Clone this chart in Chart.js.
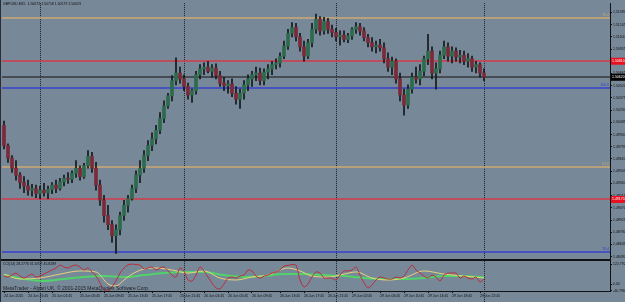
<!DOCTYPE html>
<html>
<head>
<meta charset="utf-8">
<script src="https://cdn.jsdelivr.net/npm/chart.js@4.4.0/dist/chart.umd.min.js"></script>
<style>
  html, body { margin: 0; padding: 0; background: #778899; overflow: hidden; }
  canvas { display: block; }
</style>
</head>
<body>
<canvas id="graphique" width="625" height="302"></canvas>
<script>
// GBPUSD candles, one per slot
var opens = [
  1.5005, 1.4981, 1.4966, 1.4954, 1.4946, 1.4937, 1.4933, 1.4928, 1.4930, 1.4924,
  1.4928, 1.4925, 1.4929, 1.4934, 1.4930, 1.4938, 1.4942, 1.4941, 1.4948, 1.4954,
  1.4944, 1.4957, 1.4968, 1.4954, 1.4934, 1.4916, 1.4898, 1.4887, 1.4874, 1.4881,
  1.4898, 1.4910, 1.4918, 1.4930, 1.4946, 1.4954, 1.4969, 1.4981, 1.4989, 1.4999,
  1.5013, 1.5028, 1.5040, 1.5058, 1.5067, 1.5060, 1.5051, 1.5041, 1.5046, 1.5065,
  1.5072, 1.5074, 1.5069, 1.5073, 1.5064, 1.5055, 1.5052, 1.5054, 1.5043, 1.5036,
  1.5043, 1.5053, 1.5060, 1.5065, 1.5067, 1.5058, 1.5068, 1.5072, 1.5077, 1.5079,
  1.5087, 1.5099, 1.5114, 1.5121, 1.5110, 1.5098, 1.5087, 1.5103, 1.5119, 1.5131,
  1.5117, 1.5128, 1.5119, 1.5115, 1.5110, 1.5112, 1.5107, 1.5111, 1.5119, 1.5122,
  1.5117, 1.5109, 1.5103, 1.5098, 1.5100, 1.5097, 1.5084, 1.5074, 1.5081, 1.5060,
  1.5041, 1.5029, 1.5048, 1.5062, 1.5060, 1.5069, 1.5084, 1.5093, 1.5067, 1.5072,
  1.5088, 1.5098, 1.5087, 1.5093, 1.5086, 1.5088, 1.5081, 1.5084, 1.5074, 1.5077,
  1.5067
];
var highs = [
  1.5010, 1.4983, 1.4969, 1.4963, 1.4949, 1.4944, 1.4940, 1.4935, 1.4934, 1.4933,
  1.4936, 1.4933, 1.4937, 1.4940, 1.4942, 1.4946, 1.4949, 1.4951, 1.4963, 1.4957,
  1.4960, 1.4975, 1.4973, 1.4961, 1.4940, 1.4922, 1.4910, 1.4892, 1.4887, 1.4902,
  1.4916, 1.4922, 1.4934, 1.4951, 1.4963, 1.4975, 1.4987, 1.4996, 1.5005, 1.5020,
  1.5034, 1.5043, 1.5064, 1.5085, 1.5074, 1.5065, 1.5055, 1.5048, 1.5069, 1.5077,
  1.5079, 1.5081, 1.5077, 1.5078, 1.5069, 1.5062, 1.5058, 1.5060, 1.5051, 1.5048,
  1.5058, 1.5065, 1.5069, 1.5074, 1.5073, 1.5072, 1.5077, 1.5081, 1.5084, 1.5091,
  1.5105, 1.5119, 1.5127, 1.5126, 1.5114, 1.5105, 1.5107, 1.5126, 1.5137, 1.5134,
  1.5133, 1.5132, 1.5124, 1.5120, 1.5117, 1.5117, 1.5114, 1.5121, 1.5127, 1.5126,
  1.5121, 1.5113, 1.5109, 1.5105, 1.5107, 1.5103, 1.5091, 1.5086, 1.5084, 1.5067,
  1.5048, 1.5053, 1.5067, 1.5074, 1.5077, 1.5087, 1.5113, 1.5098, 1.5079, 1.5093,
  1.5105, 1.5103, 1.5098, 1.5097, 1.5094, 1.5093, 1.5090, 1.5087, 1.5081, 1.5079,
  1.5072
];
var lows = [
  1.4977, 1.4961, 1.4949, 1.4940, 1.4930, 1.4925, 1.4922, 1.4921, 1.4919, 1.4918,
  1.4921, 1.4918, 1.4924, 1.4925, 1.4928, 1.4933, 1.4936, 1.4937, 1.4943, 1.4940,
  1.4942, 1.4954, 1.4949, 1.4928, 1.4910, 1.4890, 1.4881, 1.4866, 1.4853, 1.4875,
  1.4892, 1.4902, 1.4916, 1.4925, 1.4937, 1.4949, 1.4963, 1.4975, 1.4983, 1.4995,
  1.5008, 1.5025, 1.5034, 1.5053, 1.5055, 1.5046, 1.5036, 1.5032, 1.5042, 1.5060,
  1.5065, 1.5067, 1.5062, 1.5060, 1.5051, 1.5046, 1.5043, 1.5039, 1.5030, 1.5025,
  1.5036, 1.5046, 1.5051, 1.5058, 1.5053, 1.5053, 1.5060, 1.5065, 1.5072, 1.5074,
  1.5084, 1.5095, 1.5110, 1.5105, 1.5093, 1.5081, 1.5084, 1.5098, 1.5114, 1.5112,
  1.5113, 1.5114, 1.5110, 1.5105, 1.5100, 1.5104, 1.5103, 1.5107, 1.5114, 1.5112,
  1.5105, 1.5098, 1.5093, 1.5091, 1.5093, 1.5079, 1.5069, 1.5065, 1.5055, 1.5034,
  1.5017, 1.5025, 1.5043, 1.5055, 1.5053, 1.5064, 1.5077, 1.5060, 1.5048, 1.5067,
  1.5084, 1.5081, 1.5079, 1.5081, 1.5079, 1.5077, 1.5074, 1.5069, 1.5067, 1.5062,
  1.5058
];
var closes = [
  1.4981, 1.4966, 1.4954, 1.4946, 1.4937, 1.4933, 1.4928, 1.4930, 1.4924, 1.4928,
  1.4925, 1.4929, 1.4934, 1.4930, 1.4938, 1.4942, 1.4941, 1.4948, 1.4954, 1.4944,
  1.4957, 1.4968, 1.4954, 1.4934, 1.4916, 1.4898, 1.4887, 1.4874, 1.4881, 1.4898,
  1.4910, 1.4918, 1.4930, 1.4946, 1.4954, 1.4969, 1.4981, 1.4989, 1.4999, 1.5013,
  1.5028, 1.5040, 1.5058, 1.5067, 1.5060, 1.5051, 1.5041, 1.5046, 1.5065, 1.5072,
  1.5074, 1.5069, 1.5073, 1.5064, 1.5055, 1.5052, 1.5054, 1.5043, 1.5036, 1.5043,
  1.5053, 1.5060, 1.5065, 1.5067, 1.5058, 1.5068, 1.5072, 1.5077, 1.5079, 1.5087,
  1.5099, 1.5114, 1.5121, 1.5110, 1.5098, 1.5087, 1.5103, 1.5119, 1.5131, 1.5117,
  1.5128, 1.5119, 1.5115, 1.5110, 1.5112, 1.5107, 1.5111, 1.5119, 1.5122, 1.5117,
  1.5109, 1.5103, 1.5098, 1.5100, 1.5097, 1.5084, 1.5074, 1.5081, 1.5060, 1.5041,
  1.5029, 1.5048, 1.5062, 1.5060, 1.5069, 1.5084, 1.5093, 1.5067, 1.5072, 1.5088,
  1.5098, 1.5087, 1.5093, 1.5086, 1.5088, 1.5081, 1.5084, 1.5074, 1.5077, 1.5067,
  1.5062
];

// CCI sub-window
var cci = [
  50, 44, 56, 68, 50, 38, 50, 62, 44, 50,
  62, 75, 87, 99, 117, 105, 99, 111, 117, 105,
  87, 99, 75, 50, 8, -35, -40, -16, 20, 68,
  99, 118, 122.8, 120, 117, 93, 99, 105, 87, 99,
  105, 81, 56, 44, 99, 81, 26, 20, 56, 105,
  81, 44, 8, -22, -28, 2, 38, 44, 38, 50,
  56, 87, 81, 50, 38, 50, 56, 68, 75, 87,
  111, 115, 120, 117, 26, -16, 2, 44, 75, 68,
  38, 38, 38, 26, 56, 81, 81, 87, 105, 56,
  8, -22, -4, 26, 44, 38, 32, 32, 44, 38,
  50, 87, 117, 87, 68, 50, 38, 56, 44, 20,
  56, 68, 68, 68, 38, 50, 38, 32, 44, 14, 32
];
var yellowIdx = [0, 4, 9, 14, 19, 23, 26, 28, 30, 32, 35, 38, 42, 46, 50, 54, 58, 62, 66, 71, 74, 77, 81, 85, 88, 92, 96, 100, 105, 110, 115, 120];
var yellowVal = [62, 32, 38, 62, 81, 75, 2, -10, 26, 62, 93, 99, 87, 68, 81, 38, 26, 44, 56, 99, 81, 50, 44, 62, 75, 38, 26, 38, 81, 62, 50, 38];
var greenIdx = [0, 5, 10, 15, 20, 25, 30, 35, 40, 45, 50, 55, 60, 65, 70, 75, 80, 85, 90, 95, 100, 105, 110, 115, 120];
var greenVal = [56, 32, 20, 32, 44, 50, 44, 56, 68, 75, 75, 56, 44, 50, 62, 62, 56, 50, 38, 32, 32, 38, 50, 50, 44];

// axes
var timeIdx = [0, 6, 12, 19, 25, 31, 37, 44, 50, 56, 62, 69, 75, 81, 87, 94, 100, 106, 112, 119];
var timeLabels = ["24 Jun 2015", "24 Jun 21:45", "25 Jun 01:45", "25 Jun 05:45", "25 Jun 09:45",
  "25 Jun 13:45", "25 Jun 17:45", "25 Jun 21:45", "26 Jun 01:45", "26 Jun 05:45",
  "26 Jun 09:45", "26 Jun 13:45", "26 Jun 17:45", "26 Jun 21:45", "29 Jun 02:45",
  "29 Jun 06:45", "29 Jun 10:45", "29 Jun 14:45", "29 Jun 18:45", "29 Jun 22:45"];
var priceTicks = [1.48490, 1.48635, 1.48780, 1.48925, 1.49070, 1.49215, 1.49360, 1.49505,
  1.49650, 1.49795, 1.49940, 1.50085, 1.50230, 1.50375, 1.50520, 1.50665, 1.50810,
  1.50955, 1.51100, 1.51245, 1.51390];
var cciTicks = [-40.796, 0, 122.792];
var cciTickLabels = ["-40.7960", "0.00", "122.7920"];

// horizontal objects on the chart
var levelPrices = [1.5132, 1.5081, 1.5062, 1.5049, 1.4956, 1.4917, 1.4855];
var levelColors = ["#cfa874", "#d23a4a", "#34383e", "#3441cc", "#cfa874", "#d23a4a", "#3441cc"];
var levelNames = ["76.4", "", "", "100.0", "61.8", "", "76.4"];
var daySeparators = [9, 45, 83, 120];

var boxPrices = [1.5081, 1.4917, 1.5062];
var boxColors = ["#e8101e", "#e8101e", "#000000"];

var bull = "#2c6b4c";
var bear = "#7a2a38";
var wick = "#15171a";

var wickData = [];
var bodyData = [];
for (var i = 0; i < closes.length; i++) {
  wickData.push({ x: i, y: [lows[i], highs[i]] });
  bodyData.push({ x: i, y: [opens[i], closes[i]] });
}
var cciData = cci.map(function (v, k) { return { x: k, y: v }; });
var yellowData = yellowIdx.map(function (v, k) { return { x: v, y: yellowVal[k] }; });
var greenData = greenIdx.map(function (v, k) { return { x: v, y: greenVal[k] }; });

var font = "Liberation Sans";

var mt4 = {
  id: "mt4",
  beforeDraw: function (chart) {
    var c = chart.ctx;
    c.save();
    c.fillStyle = "#778899";
    c.fillRect(0, 0, chart.width, chart.height);
    c.restore();
  },
  beforeDatasetsDraw: function (chart) {
    var c = chart.ctx, a = chart.chartArea, ys = chart.scales.y, xs = chart.scales.x;
    c.save();
    // day separators
    c.strokeStyle = "#1e2226";
    c.lineWidth = 1;
    c.setLineDash([1, 1]);
    daySeparators.forEach(function (d) {
      var px = Math.round(xs.getPixelForValue(d)) + 0.5;
      c.beginPath();
      c.moveTo(px, a.top);
      c.lineTo(px, chart.height);
      c.stroke();
    });
    c.setLineDash([]);
    // levels
    c.font = "3.5px '" + font + "'";
    c.textAlign = "right";
    c.textBaseline = "bottom";
    c.lineWidth = 1.5;
    levelPrices.forEach(function (p, k) {
      var py = Math.round(ys.getPixelForValue(p));
      c.strokeStyle = levelColors[k];
      c.beginPath();
      c.moveTo(a.left, py);
      c.lineTo(a.right, py);
      c.stroke();
      if (levelNames[k]) {
        c.fillStyle = levelColors[k];
        c.fillText(levelNames[k], a.right - 1, py - 1);
      }
    });
    c.restore();
  },
  afterDatasetsDraw: function (chart) {
    var c = chart.ctx, a = chart.chartArea, ys = chart.scales.y;
    c.save();
    // panel split
    c.fillStyle = "#101214";
    c.fillRect(0, Math.round(ys.bottom) - 1, a.right, 2);
    // left frame
    c.fillStyle = "#2a2e33";
    c.fillRect(0, 0, 1, chart.height);
    // texts
    c.fillStyle = "#111";
    c.textAlign = "left";
    c.textBaseline = "middle";
    c.font = "3.5px '" + font + "'";
    c.fillText("GBPUSD,M15  1.50672 1.50718 1.50579 1.50623", 3, 4.5);
    c.fillText("CCI(14) 28.2776 31.6707 45.8289", 3, ys.bottom + 4);
    c.fillStyle = "#1e2024";
    c.font = "5px '" + font + "'";
    c.fillText("MetaTrader - Alpari UK, \u00a9 2001-2015 MetaQuotes Software Corp.", 3, 288.5);
    c.restore();
  },
  afterDraw: function (chart) {
    var c = chart.ctx, a = chart.chartArea, ys = chart.scales.y;
    c.save();
    c.font = "3.5px '" + font + "'";
    c.textAlign = "left";
    c.textBaseline = "middle";
    boxPrices.forEach(function (p, k) {
      var py = ys.getPixelForValue(p);
      c.fillStyle = boxColors[k];
      c.fillRect(a.right + 1, py - 3.5, chart.width - a.right - 1, 7);
      c.fillStyle = "#ffffff";
      c.fillText(p.toFixed(5), a.right + 2, py);
    });
    c.restore();
  }
};

var tickFont = { family: font, size: 3.5 };

new Chart(document.getElementById("graphique"), {
  type: "bar",
  data: {
    datasets: [
      {
        label: "body", data: bodyData, xAxisID: "x", yAxisID: "y", order: 1,
        grouped: false, barThickness: 3, minBarLength: 1, borderWidth: 0,
        backgroundColor: function (ctx) {
          var k = ctx.dataIndex;
          return closes[k] >= opens[k] ? bull : bear;
        }
      },
      {
        label: "wick", data: wickData, xAxisID: "x", yAxisID: "y", order: 2,
        grouped: false, barThickness: 1, borderWidth: 0, backgroundColor: wick
      },
      {
        type: "line", label: "CCI", data: cciData, xAxisID: "x", yAxisID: "yc", order: 3,
        borderColor: "#b8303e", borderWidth: 1, pointRadius: 0, tension: 0.3
      },
      {
        type: "line", label: "MA1", data: yellowData, xAxisID: "x", yAxisID: "yc", order: 4,
        borderColor: "#e6d27a", borderWidth: 1, pointRadius: 0, cubicInterpolationMode: "monotone"
      },
      {
        type: "line", label: "MA2", data: greenData, xAxisID: "x", yAxisID: "yc", order: 5,
        borderColor: "#4fd36a", borderWidth: 2, pointRadius: 0, cubicInterpolationMode: "monotone"
      }
    ]
  },
  options: {
    responsive: false,
    devicePixelRatio: 1,
    animation: false,
    events: [],
    layout: { padding: { left: 2, top: 2, right: 0, bottom: 0 } },
    plugins: { legend: { display: false }, tooltip: { enabled: false } },
    scales: {
      x: {
        type: "linear", position: "bottom", min: -0.5, max: 151.5, offset: false,
        afterBuildTicks: function (s) { s.ticks = timeIdx.map(function (v) { return { value: v }; }); },
        afterFit: function (s) { s.height = 11; s.paddingLeft = 0; s.paddingRight = 0; },
        ticks: {
          autoSkip: false, maxRotation: 0, minRotation: 0, align: "start", padding: 1,
          color: "#111", font: tickFont,
          callback: function (v) { var k = timeIdx.indexOf(v); return k >= 0 ? timeLabels[k] : ""; }
        },
        grid: { drawOnChartArea: false, drawTicks: true, tickLength: 2, color: "#111", offset: false },
        border: { display: true, color: "#111" }
      },
      y: {
        type: "linear", position: "right", stack: "panes", stackWeight: 258,
        min: 1.4845, max: 1.5150,
        afterBuildTicks: function (s) { s.ticks = priceTicks.map(function (v) { return { value: v }; }); },
        afterFit: function (s) { s.width = 15; },
        ticks: {
          autoSkip: false, padding: 1, color: "#111", font: tickFont,
          callback: function (v) { return v.toFixed(5); }
        },
        grid: { drawOnChartArea: false, drawTicks: true, tickLength: 2, color: "#111" },
        border: { display: true, color: "#111" }
      },
      yc: {
        type: "linear", position: "right", stack: "panes", stackWeight: 31,
        min: -40.8, max: 147,
        afterBuildTicks: function (s) { s.ticks = cciTicks.map(function (v) { return { value: v }; }); },
        afterFit: function (s) { s.width = 15; },
        ticks: {
          autoSkip: false, padding: 1, color: "#111", font: tickFont,
          callback: function (v) { var k = cciTicks.indexOf(v); return k >= 0 ? cciTickLabels[k] : ""; }
        },
        grid: { drawOnChartArea: false, drawTicks: true, tickLength: 2, color: "#111" },
        border: { display: true, color: "#111" }
      }
    }
  },
  plugins: [mt4]
});
</script>
</body>
</html>
